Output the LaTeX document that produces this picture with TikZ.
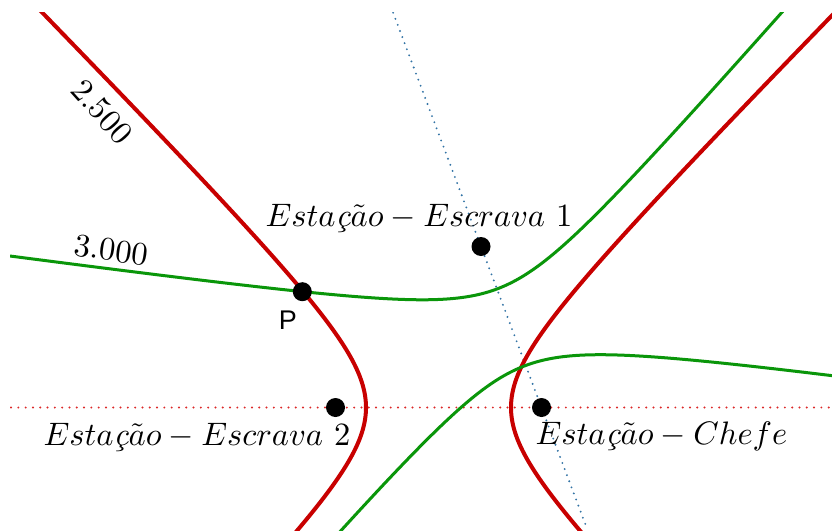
\documentclass[tikz,border=0pt]{standalone}
\usepackage{fontspec}
\newfontfamily\sansP{Liberation Sans}
\usetikzlibrary{calc}
\definecolor{hred}{RGB}{200,0,0}
\definecolor{hgreen}{RGB}{10,150,10}
\definecolor{dotred}{RGB}{220,40,40}
\definecolor{dotblue}{RGB}{50,115,165}
\tikzset{
  redcurve/.style={hred,line width=4pt},
  greencurve/.style={hgreen,line width=3pt},
  reddots/.style={dotred,line width=2.2pt,line cap=round,dash pattern=on 0pt off 7.3pt},
  bluedots/.style={dotblue,line width=2.1pt,line cap=round,dash pattern=on 0pt off 6.5pt},
  station/.style={circle,fill=black,minimum size=19pt,inner sep=0pt},
  mlabel/.style={inner sep=0pt,scale=3.25},
}
\begin{document}
\begin{tikzpicture}[x=1pt,y=-1pt]
\useasboundingbox[fill=white] (0,0) rectangle (832,530);
\coordinate (E1) at (481,246.5);
\coordinate (E2) at (335.5,407.5);
\coordinate (C) at (541.5,407.5);
\coordinate (Pc) at (302.3,291.7);
\begin{scope}
\clip (10,12) rectangle (832,530);
% axis lines
\draw[reddots] ($(E2)!-1.575!(C)$) coordinate (rl) -- ($(E2)!2.4!(C)$) coordinate (rr);
\draw[bluedots] ($(E1)!-1.452!(C)$) coordinate (bt) -- ($(E1)!1.755!(C)$) coordinate (bb);
% red hyperbola (foci E2, C)
\draw[redcurve] plot[domain=-2.7:2.7,samples=200,variable=\t] ({438.5-72.5*cosh(\t)},{407.5+73.5*sinh(\t)});
\draw[redcurve] plot[domain=-2.7:2.7,samples=200,variable=\t] ({438.5+72.5*cosh(\t)},{407.5+73.5*sinh(\t)});
% green hyperbola (foci E1, C)
\draw[greencurve] plot[domain=-2.8:2.8,samples=220,variable=\t] ({511.25-14.33*cosh(\t)+71.12*sinh(\t)},{327.25-38.26*cosh(\t)-26.64*sinh(\t)});
\draw[greencurve] plot[domain=-2.8:2.8,samples=220,variable=\t] ({511.25+14.33*cosh(\t)+71.12*sinh(\t)},{327.25+38.26*cosh(\t)-26.64*sinh(\t)});
\end{scope}
% stations
\node[station] (n1) at (E1) {};
\node[station] (n2) at (E2) {};
\node[station] (nc) at (C) {};
\node[station] (np) at (Pc) {};
% labels
\node[mlabel,anchor=base west] (l1) at (265,226) {$Esta\mbox{\itshape\c{c}}\tilde{a}o-Escrava\ 1$};
\node[mlabel,anchor=base west] (l2) at (43,445) {$Esta\mbox{\itshape\c{c}}\tilde{a}o-Escrava\ 2$};
\node[mlabel,anchor=base west] (lc) at (535,444) {$Esta\mbox{\itshape\c{c}}\tilde{a}o-Chefe$};
\node[mlabel,rotate=-48] (l25) at (101.7,111.7) {$2.500$};
\node[mlabel,rotate=-8] (l30) at (111,250) {$3.000$};
\node[inner sep=0pt,font=\sansP\fontsize{27}{30}\selectfont] (lp) at (288,320) {P};
\end{tikzpicture}
\end{document}
